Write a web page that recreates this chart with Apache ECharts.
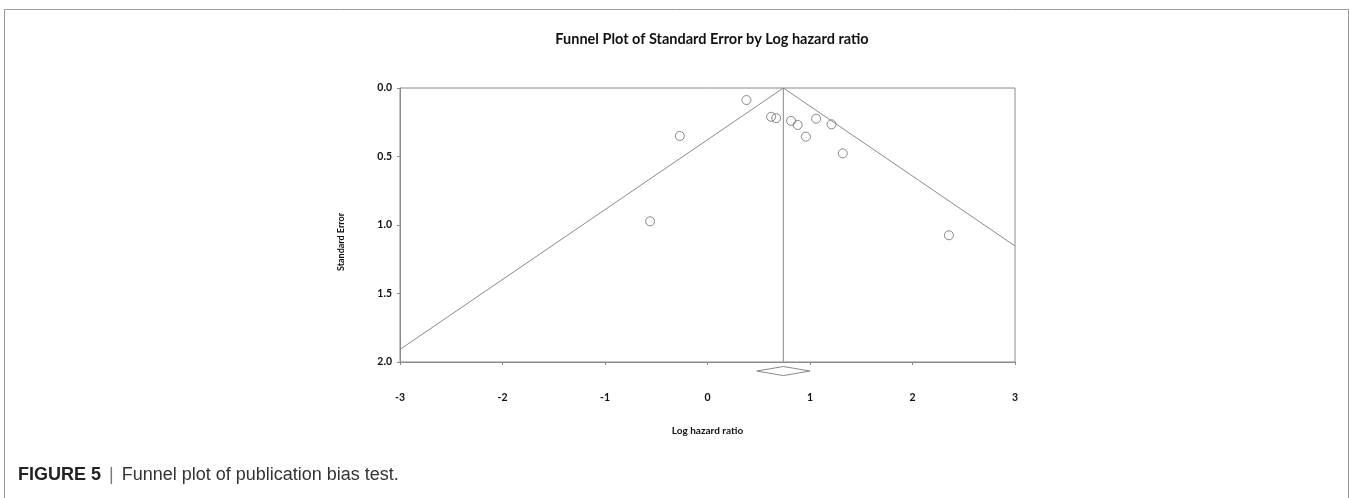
<!DOCTYPE html>
<html>
<head>
<meta charset="utf-8">
<script src="https://cdn.jsdelivr.net/npm/echarts@6/dist/echarts.min.js"></script>
<style>html,body{margin:0;padding:0;background:#fff;}#chart{width:1350px;height:498px;}</style>
</head>
<body>
<div id="chart"></div>
<script>
// Study estimates: log hazard ratio and standard error
const logHR = [0.38, 0.62, 0.67, 0.815, 0.88, 0.96, 1.06, 1.21, 1.32, -0.27, -0.56, 2.356];
const stdErr = [0.088, 0.21, 0.22, 0.24, 0.27, 0.355, 0.224, 0.265, 0.477, 0.35, 0.973, 1.075];
// Pooled estimate and its CI (diamond)
const pooled = [0.74];
const pooledCI = [0.48, 1.0];
const xTicks = [-3, -2, -1, 0, 1, 2, 3];
const yTicks = [0.0, 0.5, 1.0, 1.5, 2.0];

const z = 1.96;
const xMin = -3, xMax = 3;
const est = pooled[0];
const funnel = [
  [xMin, (est - xMin) / z],
  [est, 0],
  [xMax, (xMax - est) / z]
];
const diamondY = 2.066, dh = 0.033;
const diamond = [
  [pooledCI[0], diamondY],
  [est, diamondY - dh],
  [pooledCI[1], diamondY],
  [est, diamondY + dh],
  [pooledCI[0], diamondY]
];
const points = logHR.map((v, i) => [v, stdErr[i]]);

const chart = echarts.init(document.getElementById('chart'));
const lineCol = '#8a8a8a';
chart.setOption({
  animation: false,
  title: {
    text: 'Funnel Plot of Standard Error by Log hazard ratio',
    left: 707, top: 27, textAlign: 'center',
    textStyle: { fontFamily: 'Lato', fontWeight: 'bold', fontSize: 14.5, color: '#111' }
  },
  grid: { left: 400, right: 335, top: 88, bottom: 136, show: true, borderColor: lineCol, borderWidth: 1 },
  xAxis: {
    type: 'value', min: xMin, max: xMax, interval: 1,
    axisLine: { show: true, onZero: false, lineStyle: { color: lineCol } },
    axisTick: { show: true, length: 3, inside: false, lineStyle: { color: lineCol } },
    splitLine: { show: false },
    axisLabel: { margin: 30, fontFamily: 'Lato', fontWeight: 'bold', fontSize: 10.5, color: '#111',
      formatter: v => xTicks.includes(v) ? String(v) : '' },
    name: 'Log hazard ratio', nameLocation: 'middle', nameGap: 64,
    nameTextStyle: { fontFamily: 'Lato', fontWeight: 'bold', fontSize: 10, color: '#111' }
  },
  yAxis: {
    type: 'value', min: 0, max: 2, interval: 0.5, inverse: true,
    axisLine: { show: true, onZero: false, lineStyle: { color: lineCol } },
    axisTick: { show: true, length: 3, lineStyle: { color: lineCol } },
    splitLine: { show: false },
    axisLabel: { margin: 8, fontFamily: 'Lato', fontWeight: 'bold', fontSize: 10.5, color: '#111',
      formatter: v => v.toFixed(1) }
  },
  graphic: [
    { type: 'rect', shape: { x: 4.5, y: 9.5, width: 1344, height: 520 }, style: { fill: 'none', stroke: '#9a9a9a', lineWidth: 1 }, silent: true },
    { type: 'text', x: 341, y: 242, rotation: Math.PI / 2,
      style: { text: 'Standard Error', fontFamily: 'Lato', fontWeight: 'bold', fontSize: 9, fill: '#111', align: 'center', verticalAlign: 'middle' } },
    { type: 'text', x: 18, y: 475,
      style: { text: '{b|FIGURE 5} {s||} Funnel plot of publication bias test.', verticalAlign: 'middle',
        rich: {
          b: { fontFamily: 'Liberation Sans', fontWeight: 'bold', fontSize: 18, fill: '#222' },
          s: { fontFamily: 'Liberation Sans', fontSize: 18, fill: '#777', padding: [0, 3, 0, 3] }
        },
        fontFamily: 'Liberation Sans', fontSize: 18, fill: '#333' } }
  ],
  series: [
    { type: 'line', data: funnel, symbol: 'none', lineStyle: { color: lineCol, width: 1 }, silent: true },
    { type: 'line', data: [[est, 0], [est, 2]], symbol: 'none', lineStyle: { color: lineCol, width: 1 }, silent: true },
    { type: 'line', data: diamond, symbol: 'none', clip: false, lineStyle: { color: lineCol, width: 1 }, silent: true },
    { type: 'scatter', data: points, symbol: 'circle', symbolSize: 9,
      itemStyle: { color: 'rgba(255,255,255,0)', borderColor: '#6a6a6a', borderWidth: 1 } }
  ]
});
</script>
</body>
</html>
